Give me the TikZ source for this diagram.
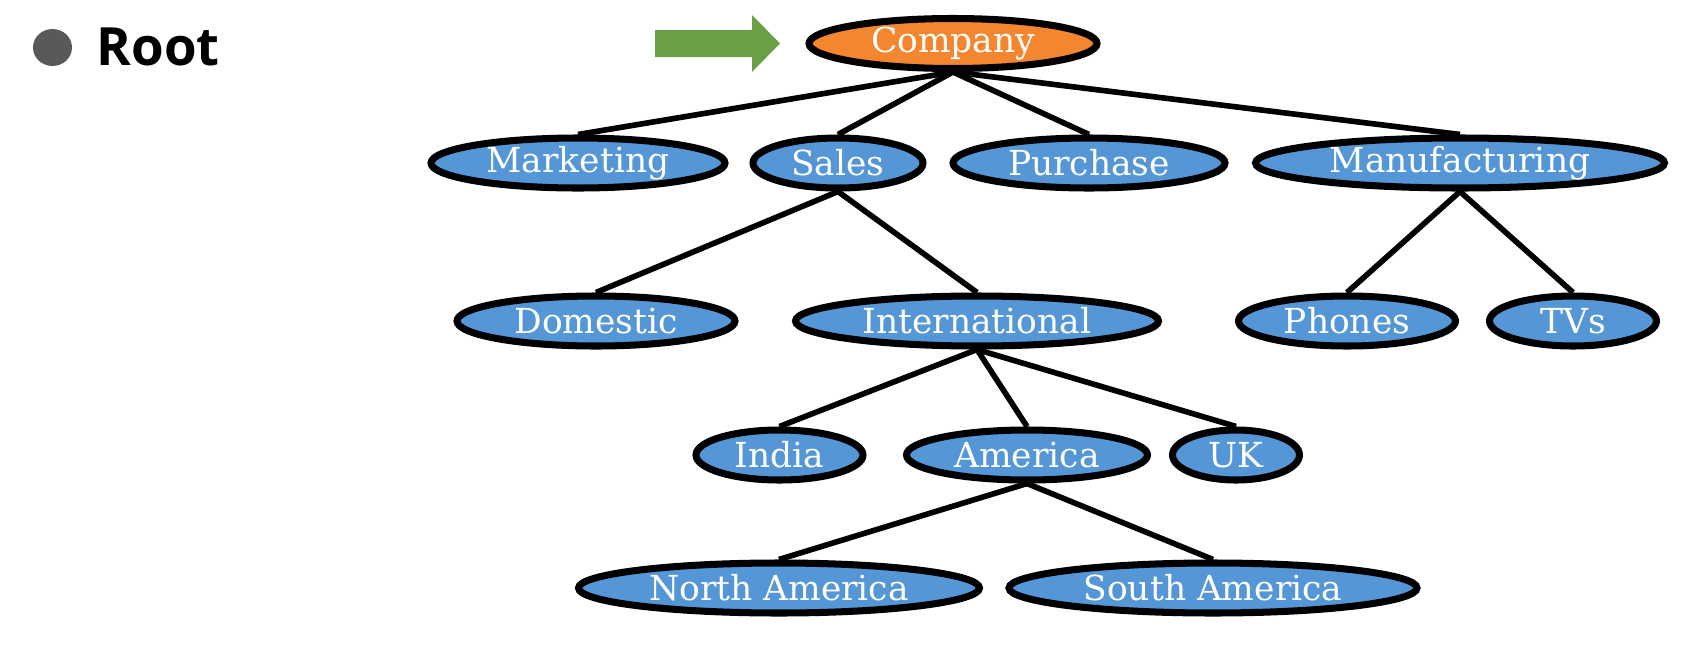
\documentclass[tikz,border=0pt]{standalone}
\usepackage{fontspec}
\setmainfont{DejaVu Serif}
\newfontfamily\headfont{Open Sans}
\usepackage{tikz}
\usetikzlibrary{shapes.geometric}
\definecolor{unitblue}{HTML}{5496D6}
\definecolor{toporange}{HTML}{F3862E}
\definecolor{pointgreen}{HTML}{6AA043}
\definecolor{dotgray}{HTML}{595959}
\tikzset{
  unit/.style={ellipse, draw=black, line width=2pt, fill=unitblue, text=white,
    minimum height=0.50cm, inner sep=0pt, font=\fontsize{9.8pt}{11pt}\selectfont},
  link/.style={line width=1.6pt}
}

\begin{document}
\begin{tikzpicture}
\useasboundingbox (0,0) rectangle (16.82,-6.52);
% bullet
\fill[dotgray] (0.525,-0.475) circle[x radius=0.195, y radius=0.185];
\node[anchor=base west, inner sep=0pt, font=\headfont\bfseries\fontsize{15pt}{17pt}\selectfont] (root) at (0.96,-0.655) {Root};
\fill[pointgreen] (6.55,-0.30) -- (7.52,-0.30) -- (7.52,-0.15) -- (7.80,-0.435)
  -- (7.52,-0.72) -- (7.52,-0.57) -- (6.55,-0.57) -- cycle;
% tree
\node[unit, fill=toporange, minimum width=2.88cm] (company) at (9.53,-0.435) {Company};
\node[unit, minimum width=2.94cm] (marketing) at (5.78,-1.63) {Marketing};
\node[unit, minimum width=1.70cm] (sales) at (8.38,-1.63) {Sales};
\node[unit, minimum width=2.72cm] (purchase) at (10.89,-1.63) {Purchase};
\node[unit, minimum width=4.09cm] (manufacturing) at (14.60,-1.63) {Manufacturing};
\node[unit, minimum width=2.78cm] (domestic) at (5.96,-3.21) {Domestic};
\node[unit, minimum width=3.63cm] (international) at (9.77,-3.21) {International};
\node[unit, minimum width=2.17cm] (phones) at (13.47,-3.21) {Phones};
\node[unit, minimum width=1.67cm] (tvs) at (15.73,-3.21) {TVs};
\node[unit, minimum width=1.67cm] (india) at (7.795,-4.55) {India};
\node[unit, minimum width=2.41cm] (america) at (10.27,-4.55) {America};
\node[unit, minimum width=1.27cm] (uk) at (12.36,-4.55) {UK};
\node[unit, minimum width=4.01cm] (northam) at (7.79,-5.88) {North America};
\node[unit, minimum width=4.08cm] (southam) at (12.13,-5.88) {South America};
% links
\foreach \kid in {marketing,sales,purchase,manufacturing}
  \draw[link] (company.south) -- (\kid.north);
\foreach \kid in {domestic,international}
  \draw[link] (sales.south) -- (\kid.north);
\foreach \kid in {phones,tvs}
  \draw[link] (manufacturing.south) -- (\kid.north);
\foreach \kid in {india,america,uk}
  \draw[link] (international.south) -- (\kid.north);
\foreach \kid in {northam,southam}
  \draw[link] (america.south) -- (\kid.north);
\end{tikzpicture}
\end{document}
